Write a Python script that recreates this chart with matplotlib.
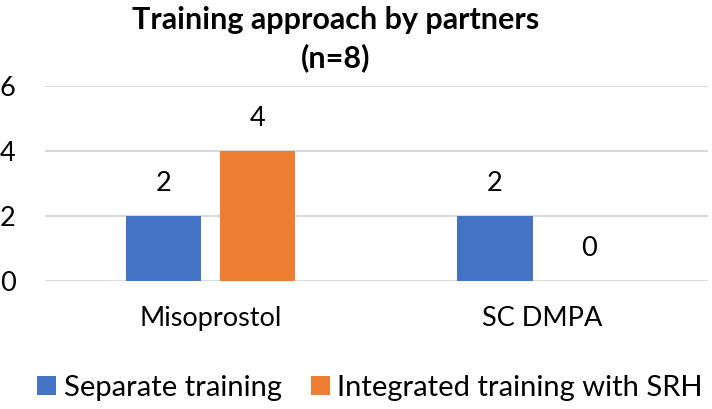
import matplotlib.pyplot as plt
import numpy as np

plt.rcParams['font.family'] = ['Lato', 'DejaVu Sans']

categories = ['Misoprostol', 'SC DMPA']
separate = [2, 2]
integrated = [4, 0]
series_names = ['Separate training', 'Integrated training with SRH']
yticks = [0, 2, 4, 6]

blue = '#4472C4'
orange = '#ED7D31'

fig = plt.figure(figsize=(7.12, 4.09), dpi=100)
ax = fig.add_axes([0.063, 0.313, 0.931, 0.477])

x = np.arange(len(categories))
w = 0.228
off = 0.142
b1 = ax.bar(x - off, separate, w, color=blue, label=series_names[0], zorder=3)
b2 = ax.bar(x + off, integrated, w, color=orange, label=series_names[1], zorder=3)

for bars in (b1, b2):
    for rect in bars:
        h = rect.get_height()
        ax.annotate(str(int(h)), (rect.get_x() + rect.get_width() / 2, h),
                    xytext=(0, 32), textcoords='offset pixels',
                    ha='center', va='center', fontsize=19.5, color='#000000')

ax.set_xlim(-0.5, 1.5)
ax.set_ylim(0, 6)
ax.set_yticks(yticks)
ax.set_xticks(x)
ax.set_xticklabels(categories)
ax.tick_params(axis='y', length=0, pad=21, labelsize=19.5)
ax.tick_params(axis='x', length=0, pad=18, labelsize=19.5)
ax.grid(axis='y', color='#D9D9D9', linewidth=1.5, zorder=0)
for s in ax.spines.values():
    s.set_visible(False)

fig.text(336 / 712, 1 - 39 / 409, 'Training approach by partners\n(n=8)',
         ha='center', va='center', fontsize=22, fontweight='bold', linespacing=1.35)

fig.legend(handles=[b1, b2], labels=series_names, loc='center',
           bbox_to_anchor=(370 / 712, 1 - 388 / 409), ncol=2, frameon=False,
           fontsize=21, handlelength=0.65, handleheight=0.65, handletextpad=0.25,
           columnspacing=1.0)

fig.savefig('out.png', dpi=100)
